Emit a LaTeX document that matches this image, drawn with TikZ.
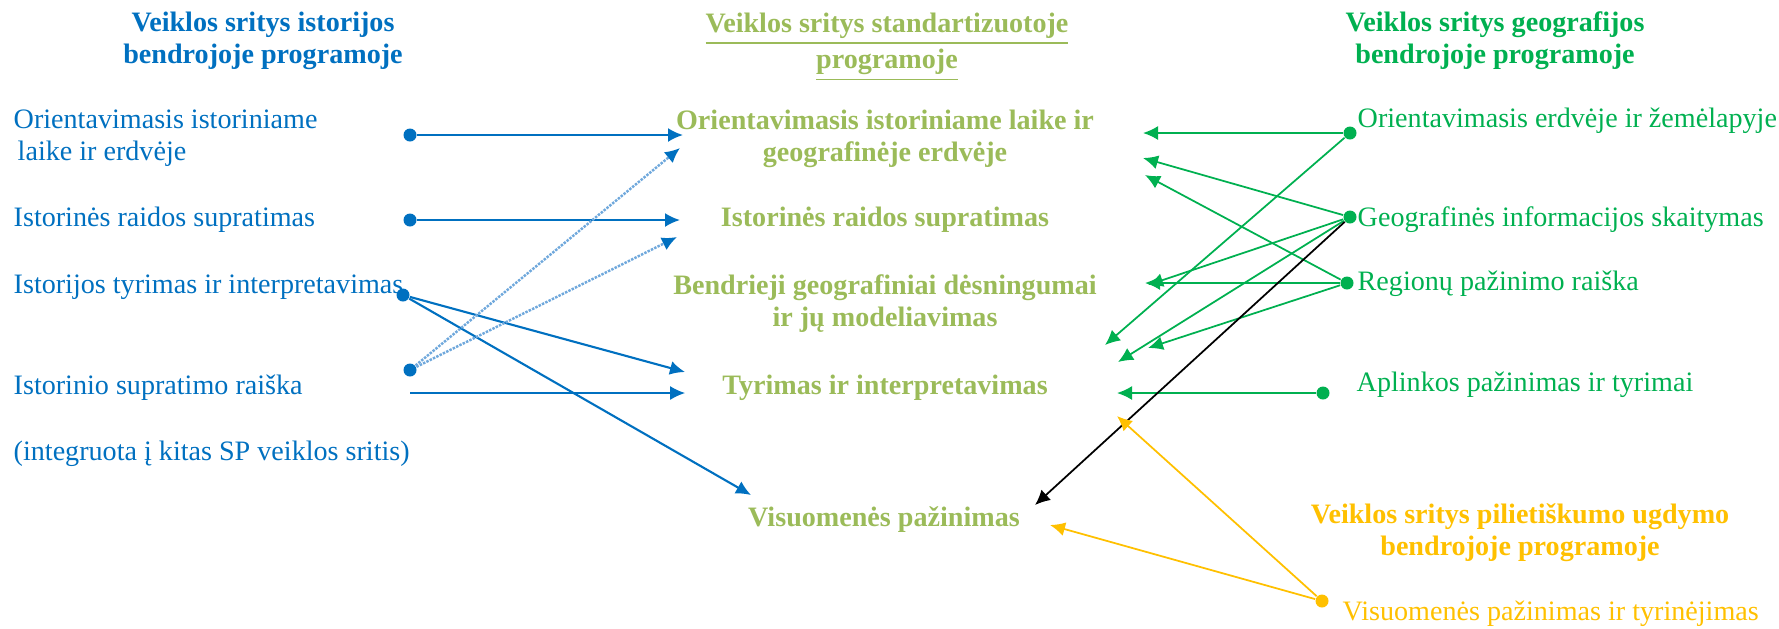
\documentclass[tikz,border=0pt]{standalone}
\usepackage{fontspec}
\setmainfont{Liberation Serif}
\usepackage{xcolor}
\usepackage{tikz}
\usetikzlibrary{arrows.meta, positioning}
\definecolor{ist-blue}{HTML}{0070C0}
\definecolor{ist-dots}{HTML}{6FA8DC}
\definecolor{std-olive}{HTML}{9BBB59}
\definecolor{geo-green}{HTML}{00B050}
\definecolor{pil-yellow}{HTML}{FFC000}

\begin{document}
\begin{tikzpicture}[
    font=\fontsize{8pt}{9.1pt}\selectfont,
    srcdot/.style={circle, fill, inner sep=0pt, minimum size=0.13cm},
    conn/.style={-{Latex[length=0.15cm, width=0.14cm]}, line width=0.6pt},
    dotconn/.style={-{Latex[length=0.15cm, width=0.14cm, color=ist-blue]}, ist-dots, line width=0.7pt, dash pattern=on 0.7pt off 0.35pt},
    heading/.style={align=center, font=\fontsize{8pt}{9.1pt}\selectfont\bfseries, inner sep=0pt},
    entry/.style={anchor=west, align=left, inner sep=0pt},
    area/.style={heading, std-olive}
]
    \useasboundingbox (0,0) rectangle (17.79,-6.28);

    % Istorijos bendroji programa
    \node[heading, ist-blue] (histTitle) at (2.63,-0.41) {Veiklos sritys istorijos\\bendrojoje programoje};
    \node[entry, ist-blue] (hOrient) at (0.13,-1.38) {Orientavimasis istoriniame\\\hspace*{0.4mm}laike ir erdvėje};
    \node[entry, ist-blue] (hRaida) at (0.13,-2.20) {Istorinės raidos supratimas};
    \node[entry, ist-blue] (hTyrimas) at (0.13,-2.87) {Istorijos tyrimas ir interpretavimas};
    \node[entry, ist-blue] (hRaiska) at (0.13,-3.88) {Istorinio supratimo raiška};
    \node[entry, ist-blue] (hNote) at (0.13,-4.54) {(integruota į kitas SP veiklos sritis)};

    \foreach \n/\x/\y in {hd1/4.10/-1.35, hd2/4.10/-2.20, hd3/4.03/-2.95, hd4/4.10/-3.70}
        \node[srcdot, ist-blue] (\n) at (\x,\y) {};
    \coordinate (hd5) at (4.10,-3.93);

    % Standartizuota programa
    \node[area] (stdTitle) at (8.87,-0.47) {\underline{Veiklos sritys standartizuotoje}\\\underline{programoje}};
    \node[area] (sOrient) at (8.85,-1.39) {Orientavimasis istoriniame laike ir\\geografinėje erdvėje};
    \node[area] (sRaida) at (8.85,-2.20) {Istorinės raidos supratimas};
    \node[area] (sDesn) at (8.85,-3.035) {Bendrieji geografiniai dėsningumai\\ir jų modeliavimas};
    \node[area] (sTyrimas) at (8.85,-3.88) {Tyrimas ir interpretavimas};
    \node[area] (sVisuom) at (8.84,-5.20) {Visuomenės pažinimas};

    % Geografijos bendroji programa
    \node[heading, geo-green] (geoTitle) at (14.95,-0.41) {Veiklos sritys geografijos\\bendrojoje programoje};
    \node[entry, geo-green] (gOrient) at (13.57,-1.21) {Orientavimasis erdvėje ir žemėlapyje};
    \node[entry, geo-green] (gInfo) at (13.57,-2.20) {Geografinės informacijos skaitymas};
    \node[entry, geo-green] (gRegion) at (13.57,-2.84) {Regionų pažinimo raiška};
    \node[entry, geo-green] (gAplink) at (13.56,-3.85) {Aplinkos pažinimas ir tyrimai};

    \foreach \n/\x/\y in {gd1/13.50/-1.33, gd2/13.50/-2.17, gd3/13.47/-2.83, gd4/13.23/-3.93}
        \node[srcdot, geo-green] (\n) at (\x,\y) {};

    % Pilietiskumo ugdymo programa
    \node[heading, pil-yellow] (pilTitle) at (15.20,-5.33) {Veiklos sritys pilietiškumo ugdymo\\bendrojoje programoje};
    \node[entry, pil-yellow] (pVisuom) at (13.42,-6.14) {Visuomenės pažinimas ir tyrinėjimas};
    \node[srcdot, pil-yellow] (yd) at (13.22,-6.01) {};

    % Rodykliu galai
    \coordinate (hEnd1) at (6.83,-1.35);
    \coordinate (hEnd2) at (6.80,-1.48);
    \coordinate (hEnd3) at (6.80,-2.20);
    \coordinate (hEnd4) at (6.77,-2.37);
    \coordinate (hEnd5) at (6.85,-3.72);
    \coordinate (hEnd6) at (6.85,-3.93);
    \coordinate (hEnd7) at (7.51,-4.95);
    \coordinate (gEnd1) at (11.43,-1.33);
    \coordinate (gEnd2) at (11.05,-3.45);
    \coordinate (gEnd3) at (11.43,-1.58);
    \coordinate (gEnd4) at (11.48,-2.85);
    \coordinate (gEnd5) at (11.18,-3.62);
    \coordinate (gEnd6) at (11.45,-1.75);
    \coordinate (gEnd7) at (11.45,-2.83);
    \coordinate (gEnd8) at (11.48,-3.48);
    \coordinate (gEnd9) at (11.17,-3.93);
    \coordinate (bEnd) at (10.35,-5.05);
    \coordinate (pEnd1) at (11.17,-4.16);
    \coordinate (pEnd2) at (10.50,-5.25);

    % Istorijos rodykles
    \foreach \from/\to in {hd1/hEnd1, hd2/hEnd3, hd3/hEnd5, hd3/hEnd7}
        \draw[conn, ist-blue] (\from) -- (\to);
    \foreach \to in {hEnd2, hEnd4}
        \draw[dotconn] (hd4) -- (\to);
    \draw[conn, ist-blue, line width=0.35pt] (hd5) -- (hEnd6);

    % Geografijos rodykles
    \foreach \from/\to in {gd1/gEnd1, gd1/gEnd2, gd2/gEnd3, gd2/gEnd4, gd2/gEnd5, gd3/gEnd6, gd3/gEnd7, gd3/gEnd8, gd4/gEnd9}
        \draw[conn, geo-green, line width=0.5pt] (\from) -- (\to);
    \draw[conn, black, line width=0.5pt] (gd2) -- (bEnd);

    % Pilietiskumo rodykles
    \foreach \to in {pEnd1, pEnd2}
        \draw[conn, pil-yellow, line width=0.5pt] (yd) -- (\to);
\end{tikzpicture}
\end{document}
